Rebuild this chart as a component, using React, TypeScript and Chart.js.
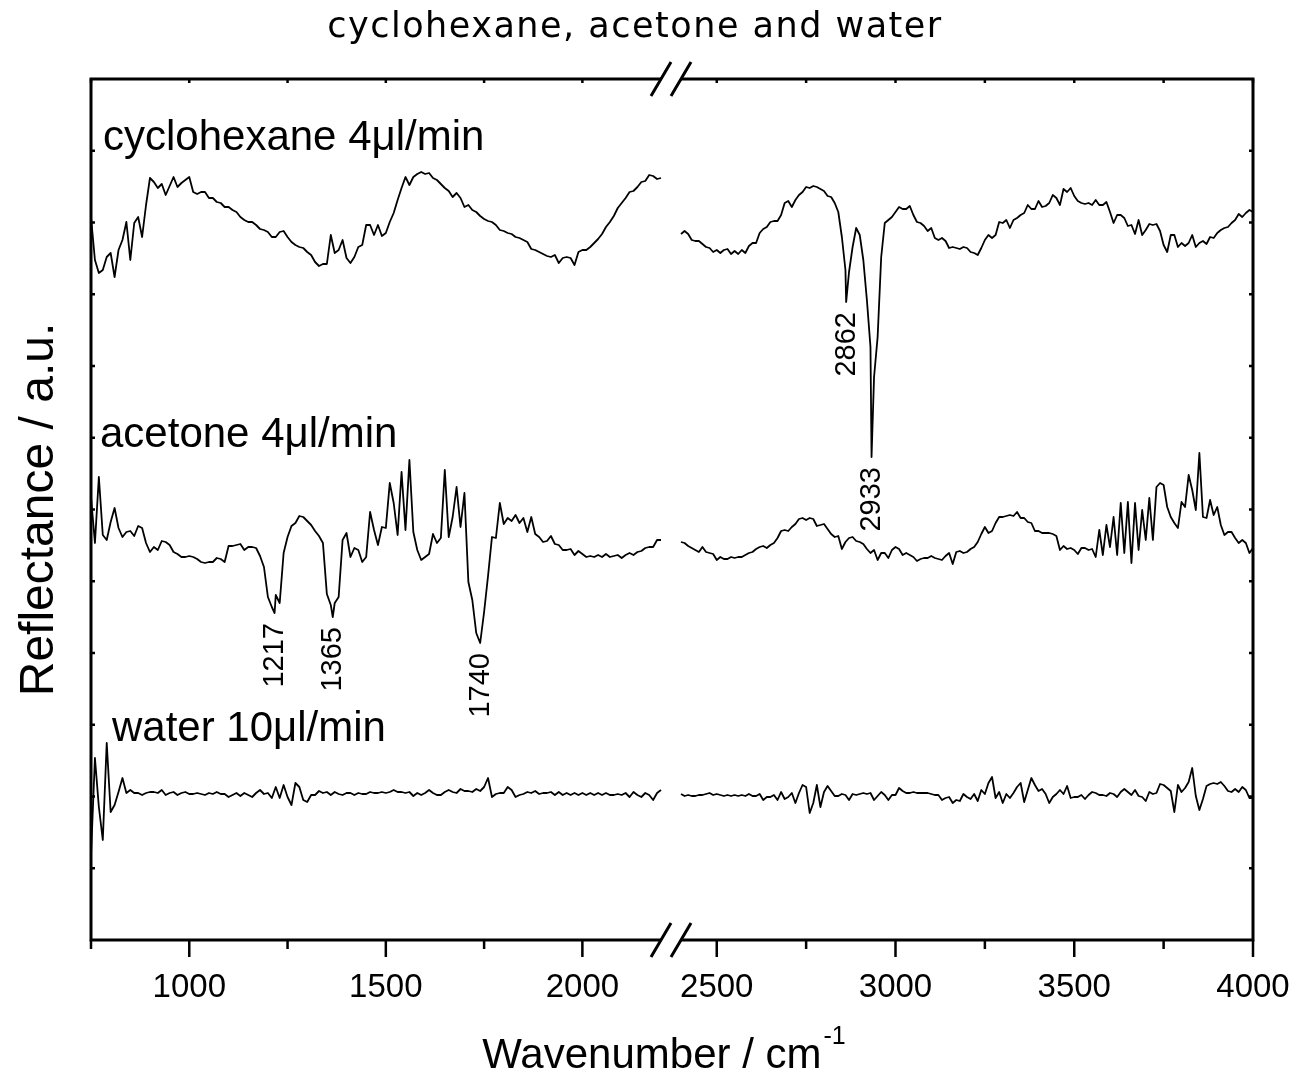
import { useEffect, useRef } from "react";
import { Chart, registerables } from "chart.js";

Chart.register(...registerables);

// Wavenumber grids (cm^-1) of the two recorded windows
const lowWavenumbers = [
  750, 760, 770, 780, 790, 800, 810, 820, 830, 840,
  850, 860, 870, 880, 890, 900, 910, 920, 930, 940,
  950, 960, 970, 980, 990, 1000, 1010, 1020, 1030, 1040,
  1050, 1060, 1070, 1080, 1090, 1100, 1110, 1120, 1130, 1140,
  1150, 1160, 1170, 1180, 1190, 1200, 1210, 1220, 1230, 1240,
  1250, 1260, 1270, 1280, 1290, 1300, 1310, 1320, 1330, 1340,
  1350, 1360, 1370, 1380, 1390, 1400, 1410, 1420, 1430, 1440,
  1450, 1460, 1470, 1480, 1490, 1500, 1510, 1520, 1530, 1540,
  1550, 1560, 1570, 1580, 1590, 1600, 1610, 1620, 1630, 1640,
  1650, 1660, 1670, 1680, 1690, 1700, 1710, 1720, 1730, 1740,
  1750, 1760, 1770, 1780, 1790, 1800, 1810, 1820, 1830, 1840,
  1850, 1860, 1870, 1880, 1890, 1900, 1910, 1920, 1930, 1940,
  1950, 1960, 1970, 1980, 1990, 2000, 2010, 2020, 2030, 2040,
  2050, 2060, 2070, 2080, 2090, 2100, 2110, 2120, 2130, 2140,
  2150, 2160, 2170, 2180, 2190, 2200,
];

const highWavenumbers = [
  2400, 2410, 2420, 2430, 2440, 2450, 2460, 2470, 2480, 2490,
  2500, 2510, 2520, 2530, 2540, 2550, 2560, 2570, 2580, 2590,
  2600, 2610, 2620, 2630, 2640, 2650, 2660, 2670, 2680, 2690,
  2700, 2710, 2720, 2730, 2740, 2750, 2760, 2770, 2780, 2790,
  2800, 2810, 2820, 2830, 2840, 2850, 2860, 2870, 2880, 2890,
  2900, 2910, 2920, 2930, 2940, 2950, 2960, 2970, 2980, 2990,
  3000, 3010, 3020, 3030, 3040, 3050, 3060, 3070, 3080, 3090,
  3100, 3110, 3120, 3130, 3140, 3150, 3160, 3170, 3180, 3190,
  3200, 3210, 3220, 3230, 3240, 3250, 3260, 3270, 3280, 3290,
  3300, 3310, 3320, 3330, 3340, 3350, 3360, 3370, 3380, 3390,
  3400, 3410, 3420, 3430, 3440, 3450, 3460, 3470, 3480, 3490,
  3500, 3510, 3520, 3530, 3540, 3550, 3560, 3570, 3580, 3590,
  3600, 3610, 3620, 3630, 3640, 3650, 3660, 3670, 3680, 3690,
  3700, 3710, 3720, 3730, 3740, 3750, 3760, 3770, 3780, 3790,
  3800, 3810, 3820, 3830, 3840, 3850, 3860, 3870, 3880, 3890,
  3900, 3910, 3920, 3930, 3940, 3950, 3960, 3970, 3980, 3990,
  4000,
];

// Reflectance (a.u., offset spectra)
const cyclohexaneLow = [
  7.23, 6.80, 6.67, 6.70, 6.83, 6.87, 6.63, 6.90, 7.00, 7.18,
  6.80, 7.17, 7.23, 7.03, 7.35, 7.62, 7.58, 7.52, 7.56, 7.45,
  7.54, 7.63, 7.53, 7.57, 7.60, 7.63, 7.48, 7.46, 7.48, 7.48,
  7.42, 7.42, 7.38, 7.37, 7.33, 7.33, 7.30, 7.28, 7.23, 7.20,
  7.18, 7.18, 7.15, 7.11, 7.10, 7.08, 7.03, 7.03, 7.08, 7.09,
  7.03, 6.98, 6.95, 6.93, 6.92, 6.88, 6.85, 6.78, 6.74, 6.76,
  6.76, 7.05, 6.87, 6.90, 7.00, 6.82, 6.77, 6.83, 6.93, 6.95,
  7.15, 7.15, 7.05, 7.15, 7.04, 7.07, 7.18, 7.27, 7.40, 7.52,
  7.63, 7.55, 7.63, 7.66, 7.68, 7.66, 7.67, 7.62, 7.60, 7.56,
  7.52, 7.49, 7.43, 7.47, 7.42, 7.33, 7.35, 7.30, 7.28, 7.24,
  7.21, 7.19, 7.18, 7.15, 7.10, 7.09, 7.07, 7.06, 7.03, 7.02,
  7.00, 6.98, 6.91, 6.90, 6.88, 6.86, 6.84, 6.83, 6.85, 6.77,
  6.82, 6.83, 6.82, 6.75, 6.88, 6.90, 6.90, 6.93, 6.97, 7.01,
  7.06, 7.13, 7.18, 7.24, 7.32, 7.37, 7.42, 7.48, 7.49, 7.53,
  7.58, 7.59, 7.65, 7.64, 7.61, 7.62,
];

const cyclohexaneHigh = [
  7.06, 7.09, 7.06, 7.00, 6.99, 6.99, 6.96, 6.93, 6.92, 6.88,
  6.90, 6.87, 6.90, 6.91, 6.86, 6.89, 6.86, 6.90, 6.87, 6.94,
  6.97, 6.97, 7.07, 7.11, 7.13, 7.18, 7.19, 7.19, 7.25, 7.37,
  7.39, 7.33, 7.40, 7.45, 7.48, 7.53, 7.52, 7.54, 7.53, 7.51,
  7.49, 7.44, 7.43, 7.37, 7.28, 7.03, 6.70, 6.68, 6.93, 7.12,
  7.05, 6.80, 6.40, 5.93, 5.63, 6.03, 6.83, 7.17, 7.20, 7.23,
  7.28, 7.33, 7.31, 7.31, 7.34, 7.25, 7.18, 7.17, 7.14, 7.09,
  7.12, 7.02, 7.00, 7.02, 6.99, 6.92, 6.93, 6.92, 6.91, 6.93,
  6.92, 6.88, 6.87, 6.85, 6.92, 7.00, 7.05, 7.02, 7.05, 7.18,
  7.17, 7.20, 7.12, 7.20, 7.22, 7.25, 7.27, 7.35, 7.31, 7.31,
  7.39, 7.33, 7.34, 7.37, 7.45, 7.42, 7.35, 7.51, 7.48, 7.52,
  7.44, 7.39, 7.37, 7.36, 7.37, 7.35, 7.40, 7.35, 7.35, 7.38,
  7.28, 7.17, 7.25, 7.25, 7.22, 7.14, 7.15, 7.06, 7.20, 7.05,
  7.10, 7.16, 7.15, 7.16, 7.09, 6.95, 6.88, 7.05, 7.05, 6.93,
  6.97, 6.94, 6.97, 7.05, 6.93, 6.97, 6.99, 6.96, 7.03, 7.02,
  7.07, 7.10, 7.12, 7.13, 7.17, 7.20, 7.26, 7.23, 7.27, 7.30,
  7.28,
];

const acetoneLow = [
  4.43, 3.97, 4.63, 4.05, 4.00, 4.18, 4.32, 4.12, 4.03, 4.08,
  4.09, 4.04, 4.14, 4.12, 3.97, 3.88, 3.93, 3.90, 3.99, 3.98,
  3.95, 3.88, 3.86, 3.83, 3.83, 3.84, 3.83, 3.81, 3.78, 3.77,
  3.78, 3.78, 3.82, 3.81, 3.78, 3.94, 3.94, 3.95, 3.96, 3.90,
  3.93, 3.93, 3.92, 3.84, 3.73, 3.43, 3.33, 3.45, 3.37, 3.87,
  4.03, 4.14, 4.17, 4.24, 4.23, 4.19, 4.15, 4.09, 4.04, 3.97,
  3.46, 3.35, 3.37, 3.43, 4.00, 4.07, 3.83, 3.92, 3.90, 3.78,
  3.83, 4.28, 4.10, 3.95, 4.13, 4.12, 4.57, 4.37, 4.05, 4.68,
  4.10, 4.80, 4.08, 3.90, 3.80, 3.83, 3.86, 4.06, 3.97, 4.02,
  4.70, 4.03, 4.23, 4.53, 4.13, 4.47, 3.58, 3.40, 3.07, 2.97,
  3.28, 3.64, 4.03, 4.02, 4.37, 4.16, 4.22, 4.19, 4.25, 4.17,
  4.22, 4.08, 4.23, 4.06, 4.03, 3.98, 3.99, 4.04, 3.96, 3.95,
  3.90, 3.90, 3.91, 3.85, 3.89, 3.86, 3.83, 3.84, 3.83, 3.85,
  3.83, 3.86, 3.83, 3.84, 3.85, 3.82, 3.85, 3.87, 3.85, 3.88,
  3.89, 3.92, 3.93, 3.93, 4.00, 4.00,
];

const acetoneHigh = [
  3.98, 3.97, 3.94, 3.92, 3.90, 3.88, 3.93, 3.88, 3.87, 3.86,
  3.80, 3.83, 3.81, 3.81, 3.83, 3.82, 3.83, 3.83, 3.85, 3.87,
  3.88, 3.91, 3.93, 3.94, 3.92, 3.95, 3.97, 4.02, 4.09, 4.10,
  4.09, 4.13, 4.16, 4.21, 4.22, 4.20, 4.22, 4.21, 4.14, 4.15,
  4.16, 4.11, 4.06, 4.03, 4.04, 3.91, 3.98, 4.02, 4.03, 3.99,
  3.98, 3.96, 3.91, 3.87, 3.90, 3.80, 3.87, 3.87, 3.82, 3.90,
  3.93, 3.91, 3.85, 3.87, 3.85, 3.83, 3.79, 3.81, 3.82, 3.82,
  3.84, 3.82, 3.81, 3.80, 3.84, 3.87, 3.76, 3.88, 3.89, 3.87,
  3.88, 3.91, 3.93, 3.98, 4.06, 4.13, 4.07, 4.09, 4.17, 4.23,
  4.23, 4.24, 4.25, 4.24, 4.28, 4.22, 4.22, 4.18, 4.17, 4.09,
  4.09, 4.07, 4.07, 4.07, 4.06, 4.04, 3.90, 3.94, 3.91, 3.92,
  3.90, 3.86, 3.92, 3.92, 3.90, 3.91, 3.83, 4.10, 3.85, 4.15,
  3.93, 4.23, 3.85, 4.37, 3.87, 4.38, 3.77, 4.37, 3.90, 4.30,
  4.00, 4.42, 4.00, 4.53, 4.57, 4.55, 4.33, 4.23, 4.17, 4.12,
  4.38, 4.33, 4.65, 4.50, 4.30, 4.87, 4.23, 4.22, 4.40, 4.25,
  4.33, 4.15, 4.05, 4.08, 4.08, 4.02, 3.97, 4.00, 3.97, 3.87,
  3.92,
];

const waterLow = [
  0.85, 1.82, 1.33, 1.00, 1.97, 1.28, 1.35, 1.48, 1.62, 1.47,
  1.50, 1.47, 1.47, 1.45, 1.47, 1.48, 1.48, 1.47, 1.50, 1.45,
  1.47, 1.48, 1.45, 1.47, 1.48, 1.46, 1.46, 1.47, 1.46, 1.45,
  1.47, 1.46, 1.48, 1.46, 1.46, 1.43, 1.45, 1.47, 1.44, 1.47,
  1.45, 1.43, 1.47, 1.50, 1.46, 1.47, 1.42, 1.53, 1.42, 1.55,
  1.43, 1.35, 1.57, 1.53, 1.40, 1.38, 1.45, 1.45, 1.49, 1.47,
  1.48, 1.45, 1.48, 1.46, 1.45, 1.47, 1.47, 1.45, 1.47, 1.46,
  1.46, 1.48, 1.47, 1.47, 1.48, 1.47, 1.48, 1.50, 1.48, 1.48,
  1.47, 1.48, 1.44, 1.47, 1.45, 1.47, 1.50, 1.47, 1.45, 1.45,
  1.48, 1.50, 1.48, 1.47, 1.51, 1.49, 1.49, 1.48, 1.51, 1.49,
  1.53, 1.62, 1.43, 1.46, 1.47, 1.47, 1.53, 1.50, 1.43, 1.45,
  1.46, 1.48, 1.47, 1.49, 1.46, 1.47, 1.47, 1.48, 1.45, 1.48,
  1.45, 1.47, 1.45, 1.47, 1.45, 1.47, 1.45, 1.47, 1.45, 1.47,
  1.45, 1.47, 1.45, 1.45, 1.46, 1.45, 1.47, 1.43, 1.48, 1.45,
  1.43, 1.47, 1.45, 1.40, 1.47, 1.50,
];

const waterHigh = [
  1.46, 1.44, 1.45, 1.44, 1.44, 1.45, 1.45, 1.46, 1.47, 1.45,
  1.46, 1.45, 1.44, 1.45, 1.44, 1.45, 1.44, 1.45, 1.44, 1.46,
  1.44, 1.44, 1.46, 1.40, 1.43, 1.43, 1.45, 1.40, 1.48, 1.41,
  1.43, 1.47, 1.37, 1.47, 1.55, 1.53, 1.27, 1.37, 1.55, 1.33,
  1.48, 1.54, 1.49, 1.44, 1.44, 1.46, 1.45, 1.40, 1.46, 1.45,
  1.46, 1.47, 1.46, 1.47, 1.40, 1.44, 1.48, 1.45, 1.40, 1.45,
  1.45, 1.52, 1.49, 1.47, 1.47, 1.48, 1.47, 1.47, 1.47, 1.47,
  1.46, 1.45, 1.45, 1.40, 1.42, 1.43, 1.37, 1.40, 1.39, 1.46,
  1.43, 1.41, 1.46, 1.39, 1.50, 1.46, 1.57, 1.63, 1.42, 1.48,
  1.37, 1.46, 1.42, 1.47, 1.53, 1.57, 1.38, 1.50, 1.62, 1.55,
  1.49, 1.51, 1.46, 1.37, 1.43, 1.46, 1.50, 1.46, 1.54, 1.42,
  1.43, 1.43, 1.45, 1.41, 1.45, 1.48, 1.47, 1.45, 1.45, 1.44,
  1.47, 1.46, 1.43, 1.48, 1.51, 1.48, 1.45, 1.50, 1.44, 1.43,
  1.39, 1.48, 1.46, 1.47, 1.56, 1.55, 1.52, 1.49, 1.28, 1.55,
  1.48, 1.52, 1.58, 1.72, 1.44, 1.30, 1.41, 1.54, 1.56, 1.57,
  1.56, 1.58, 1.54, 1.49, 1.48, 1.51, 1.48, 1.53, 1.50, 1.42,
  1.42,
];

// Assigned absorption bands (cm^-1) and the reflectance at their minima
const cyclohexaneBands = [2862, 2933];
const cyclohexaneBandMinima = [6.38, 4.83];
const acetoneBands = [1217, 1365, 1740];
const acetoneBandMinima = [3.27, 3.23, 2.97];

const seriesNames = ["cyclohexane 4\u03bcl/min", "acetone 4\u03bcl/min", "water 10\u03bcl/min"];
const titleText = "cyclohexane, acetone and water";

const majorTicks = [1000, 1500, 2000, 2500, 3000, 3500, 4000];
const minorTicks = [750, 1250, 1750, 2750, 3250, 3750];

// Reflectance range and the spacing of the unlabelled ticks on the side axes
const Y_MAX = 8.61;
const Y_TICK_COUNT = 12;

// Broken wavenumber axis: two windows laid side by side with a short gap
const LOW_MIN = 750;
const LOW_MAX = 2200;
const HIGH_MIN = 2400;
const HIGH_MAX = 4000;
const LOW_SHARE = 570;
const GAP_SHARE = 20;
const HIGH_SHARE = 572;

function toAxis(w: number): number {
  if (w <= LOW_MAX + (HIGH_MIN - LOW_MAX) / 2) {
    return ((w - LOW_MIN) * LOW_SHARE) / (LOW_MAX - LOW_MIN);
  }
  return LOW_SHARE + GAP_SHARE + ((w - HIGH_MIN) * HIGH_SHARE) / (HIGH_MAX - HIGH_MIN);
}

function segment(ws: number[], vs: number[], bands: number[], minima: number[], lo: number, hi: number) {
  const pts = ws.map((w, i) => ({ w, v: vs[i] })).filter((p) => !bands.includes(p.w));
  bands.forEach((b, i) => {
    if (b >= lo && b <= hi) pts.push({ w: b, v: minima[i] });
  });
  pts.sort((a, b) => a.w - b.w);
  return pts.map((p) => ({ x: toAxis(p.w), y: p.v as number | null }));
}

function spectrum(low: number[], high: number[], bands: number[] = [], minima: number[] = []) {
  return [
    ...segment(lowWavenumbers, low, bands, minima, LOW_MIN, LOW_MAX),
    { x: LOW_SHARE + GAP_SHARE / 2, y: null },
    ...segment(highWavenumbers, high, bands, minima, HIGH_MIN, HIGH_MAX),
  ];
}

const SANS = "'Liberation Sans', Arial, sans-serif";

const frameAndLabels = {
  id: "frameAndLabels",
  afterDatasetsDraw(chart: any) {
    const { ctx, chartArea: a, scales } = chart;
    const xs = scales.x;
    const ys = scales.y;
    const px = (w: number) => xs.getPixelForValue(toAxis(w));
    const b1 = xs.getPixelForValue(LOW_SHARE);
    const b2 = xs.getPixelForValue(LOW_SHARE + GAP_SHARE);

    ctx.save();
    ctx.strokeStyle = "#000";
    ctx.fillStyle = "#000";
    ctx.lineJoin = "miter";
    ctx.lineCap = "butt";

    // frame, interrupted at the break
    ctx.lineWidth = 3;
    ctx.beginPath();
    ctx.moveTo(b1, a.top);
    ctx.lineTo(a.left, a.top);
    ctx.lineTo(a.left, a.bottom);
    ctx.lineTo(b1, a.bottom);
    ctx.moveTo(b2, a.top);
    ctx.lineTo(a.right, a.top);
    ctx.lineTo(a.right, a.bottom);
    ctx.lineTo(b2, a.bottom);
    ctx.stroke();

    // break marks
    ctx.beginPath();
    for (const y of [a.top, a.bottom]) {
      for (const x of [b1, b2]) {
        ctx.moveTo(x - 10, y + 17);
        ctx.lineTo(x + 10, y - 17);
      }
    }
    ctx.stroke();

    // outer ticks on the wavenumber axis, short inner ticks on the other sides
    ctx.lineWidth = 2.5;
    ctx.beginPath();
    for (const w of majorTicks) {
      ctx.moveTo(px(w), a.bottom);
      ctx.lineTo(px(w), a.bottom + 17);
      ctx.moveTo(px(w), a.top);
      ctx.lineTo(px(w), a.top + 4);
    }
    for (const w of minorTicks) {
      ctx.moveTo(px(w), a.bottom);
      ctx.lineTo(px(w), a.bottom + 9);
      ctx.moveTo(px(w), a.top);
      ctx.lineTo(px(w), a.top + 4);
    }
    for (let k = 1; k < Y_TICK_COUNT; k++) {
      const y = ys.getPixelForValue((k * Y_MAX) / Y_TICK_COUNT);
      ctx.moveTo(a.left, y);
      ctx.lineTo(a.left + 4, y);
      ctx.moveTo(a.right, y);
      ctx.lineTo(a.right - 4, y);
    }
    ctx.stroke();

    // tick labels
    ctx.font = `33px ${SANS}`;
    ctx.textAlign = "center";
    ctx.textBaseline = "alphabetic";
    for (const w of majorTicks) ctx.fillText(String(w), px(w), a.bottom + 57);

    // x-axis title with superscript
    const main = "Wavenumber / cm";
    const sup = "-1";
    ctx.font = `42px ${SANS}`;
    const mw = ctx.measureText(main).width;
    ctx.font = `25px ${SANS}`;
    const sw = ctx.measureText(sup).width;
    const cx = (a.left + a.right) / 2 - 8;
    const startX = cx - (mw + sw + 2) / 2;
    ctx.textAlign = "left";
    ctx.font = `42px ${SANS}`;
    ctx.fillText(main, startX, a.bottom + 128);
    ctx.font = `25px ${SANS}`;
    ctx.fillText(sup, startX + mw + 2, a.bottom + 104);

    // y-axis title
    ctx.save();
    ctx.translate(a.left - 38, (a.top + a.bottom) / 2);
    ctx.rotate(-Math.PI / 2);
    ctx.font = `48px ${SANS}`;
    ctx.textAlign = "center";
    ctx.fillText("Reflectance / a.u.", 0, 0);
    ctx.restore();

    // chart title
    ctx.save();
    ctx.font = "35px 'DejaVu Sans', sans-serif";
    (ctx as any).letterSpacing = "1.5px";
    ctx.textAlign = "center";
    ctx.fillText(titleText, a.left + 544, a.top - 42);
    ctx.restore();

    // spectrum names
    ctx.font = `42px ${SANS}`;
    ctx.textAlign = "left";
    ctx.fillText(seriesNames[0], a.left + 12, a.top + 71);
    ctx.fillText(seriesNames[1], a.left + 9, a.top + 368);
    ctx.fillText(seriesNames[2], a.left + 21, a.top + 662);

    // band assignments, written upright below each minimum
    ctx.font = `29px ${SANS}`;
    ctx.textAlign = "right";
    const bandLabels = (bands: number[], minima: number[]) => {
      bands.forEach((b, i) => {
        ctx.save();
        ctx.translate(px(b) - 2, ys.getPixelForValue(minima[i]) + 10);
        ctx.rotate(-Math.PI / 2);
        ctx.fillText(String(b), 0, 10.5);
        ctx.restore();
      });
    };
    bandLabels(acetoneBands, acetoneBandMinima);
    bandLabels(cyclohexaneBands, cyclohexaneBandMinima);

    ctx.restore();
  },
};

export default function App() {
  const canvasRef = useRef<HTMLCanvasElement | null>(null);

  useEffect(() => {
    const canvas = canvasRef.current;
    if (!canvas) return;
    const line = (data: any[]) => ({
      data,
      borderColor: "#000",
      borderWidth: 1.8,
      pointRadius: 0,
      tension: 0,
      spanGaps: false,
      borderJoinStyle: "round" as const,
    });
    const chart = new Chart(canvas, {
      type: "line",
      data: {
        datasets: [
          line(spectrum(cyclohexaneLow, cyclohexaneHigh, cyclohexaneBands, cyclohexaneBandMinima)),
          line(spectrum(acetoneLow, acetoneHigh, acetoneBands, acetoneBandMinima)),
          line(spectrum(waterLow, waterHigh)),
        ],
      },
      options: {
        responsive: false,
        animation: false,
        devicePixelRatio: 1,
        events: [],
        layout: { padding: { left: 91, top: 79, right: 42, bottom: 134 } },
        scales: {
          x: { type: "linear", min: 0, max: LOW_SHARE + GAP_SHARE + HIGH_SHARE, display: false },
          y: { type: "linear", min: 0, max: Y_MAX, display: false },
        },
        plugins: {
          legend: { display: false },
          title: { display: false },
          tooltip: { enabled: false },
        },
      },
      plugins: [frameAndLabels],
    });
    return () => chart.destroy();
  }, []);

  return (
    <div style={{ position: "absolute", left: 0, top: 0, width: 1295, height: 1074, background: "#fff" }}>
      <canvas ref={canvasRef} width={1295} height={1074} style={{ display: "block", width: 1295, height: 1074 }} />
    </div>
  );
}
